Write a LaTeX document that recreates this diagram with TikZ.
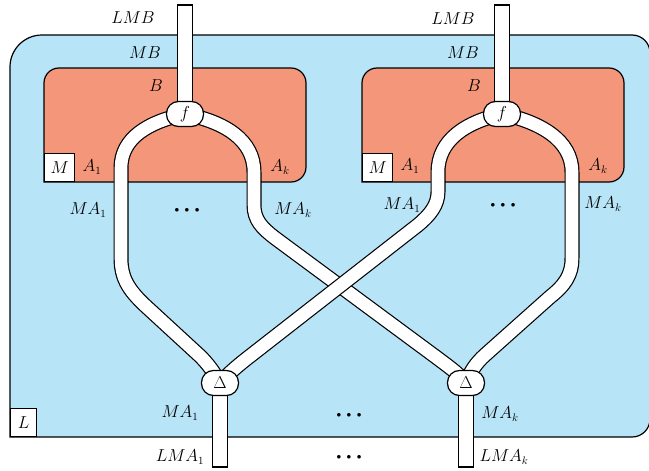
\documentclass[tikz,border=0pt]{standalone}
\usetikzlibrary{calc}
\definecolor{bluebg}{RGB}{184,228,248}
\definecolor{orangebg}{RGB}{244,150,122}
\newcommand{\mydots}{$\bullet$\kern5.5pt$\bullet$\kern5.5pt$\bullet$}
\begin{document}
\begin{tikzpicture}[x=1pt,y=-1pt,line width=1.2pt,
  font=\fontsize{16}{19}\selectfont,
  strand/.style={draw=black,line width=1.2pt,double=white,double distance=12.6pt},
  endbox/.style={draw=black,fill=white,line width=1.2pt},
  joint/.style={draw=black,fill=white,line width=1.2pt,rectangle,rounded corners=12pt,
    minimum width=37pt,minimum height=25pt,inner sep=0pt},
  sqbox/.style={draw=black,fill=white,line width=1.2pt,inner sep=0pt},
  lbl/.style={inner sep=0pt},
  dotsl/.style={inner sep=0pt,font=\fontsize{9}{9}\selectfont}]
\useasboundingbox (0,0) rectangle (649,471);
% outer blue region
\draw[fill=bluebg] (10,437) -- (10,67) .. controls (10,49.3) and (24.3,35) .. (42,35)
  -- (632,35) .. controls (642,35) and (650,43) .. (650,53)
  -- (650,419) .. controls (650,429) and (642,437) .. (632,437) -- cycle;
% inner orange regions
\foreach \dx in {0,318}{
\begin{scope}[xshift=\dx pt]
\draw[fill=orangebg] (44,182) -- (44,83) .. controls (44,74.7) and (50.7,68) .. (59,68)
  -- (291,68) .. controls (299.3,68) and (306,74.7) .. (306,83)
  -- (306,167) .. controls (306,175.3) and (299.3,182) .. (291,182) -- cycle;
\end{scope}}
\node[sqbox,minimum width=30pt,minimum height=28pt,anchor=south west] (M1) at (44,182) {$M$};
\node[sqbox,minimum width=30pt,minimum height=28pt,anchor=south west] (M2) at (362,182) {$M$};
\node[sqbox,minimum width=26pt,minimum height=28pt,anchor=south west] (Lb) at (10,437) {$L$};
% joints (positions)
\coordinate (fL) at (185,114);
\coordinate (fR) at (502,114);
\coordinate (dL) at (220,383);
\coordinate (dR) at (466,383);
\coordinate (tL) at (185,5);
\coordinate (tR) at (502,5);
\coordinate (bL) at (220,467);
\coordinate (bR) at (466,467);
% strands
\draw[strand] (fL) .. controls (148,122) and (121,138) .. (121,168) -- (121,258)
  .. controls (121,280) and (130,292) .. (150,310) -- (200,356)
  .. controls (208,364) and (214,372) .. (dL);
\draw[strand] (fL) .. controls (225,122) and (254,140) .. (254,172) -- (254,205)
  .. controls (254,220) and (262,228) .. (275,238) -- (440,360)
  .. controls (452,369) and (460,375) .. (dR);
\draw[strand] (fR) .. controls (466,122) and (438,140) .. (438,172) -- (438,192)
  .. controls (438,205) and (430,215) .. (418,225) -- (245,360)
  .. controls (235,368) and (226,376) .. (dL);
\draw[strand] (fR) .. controls (540,122) and (572,140) .. (572,172) -- (572,258)
  .. controls (572,275) and (565,285) .. (550,297) -- (485,355)
  .. controls (476,363) and (470,372) .. (dR);
% terminal strands
\draw[endbox] ($(tL)+(-7.5,0)$) rectangle ($(fL)+(7.5,-2)$);
\draw[endbox] ($(tR)+(-7.5,0)$) rectangle ($(fR)+(7.5,-2)$);
\draw[endbox] ($(dL)+(-7.5,2)$) rectangle ($(bL)+(7.5,0)$);
\draw[endbox] ($(dR)+(-7.5,2)$) rectangle ($(bR)+(7.5,0)$);
% joint nodes
\node[joint] (f1) at (fL) {$f$};
\node[joint] (f2) at (fR) {$f$};
\node[joint] (D1) at (dL) {$\Delta$};
\node[joint] (D2) at (dR) {$\Delta$};
% labels left group
\node[lbl] (l1) at (133,18) {$LMB$};
\node[lbl] (l2) at (145,53) {$MB$};
\node[lbl] (l3) at (156,86) {$B$};
\node[lbl] (l4) at (92,167) {$A_1$};
\node[lbl] (l5) at (280,167) {$A_k$};
\node[lbl] (l6) at (88,210) {$MA_1$};
\node[lbl] (l7) at (293,210) {$MA_k$};
\node[dotsl] (l8) at (187,210) {\mydots};
% labels right group
\node[lbl] (r1) at (453,19) {$LMB$};
\node[lbl] (r2) at (463,53) {$MB$};
\node[lbl] (r3) at (474,86) {$B$};
\node[lbl] (r4) at (410,166) {$A_1$};
\node[lbl] (r5) at (598,166) {$A_k$};
\node[lbl] (r6) at (402,205) {$MA_1$};
\node[lbl] (r7) at (603,204) {$MA_k$};
\node[dotsl] (r8) at (503,205) {\mydots};
% bottom labels
\node[lbl] (b1) at (180,413) {$MA_1$};
\node[lbl] (b2) at (180,457) {$LMA_1$};
\node[lbl] (b3) at (500,414) {$MA_k$};
\node[lbl] (b4) at (504,457) {$LMA_k$};
\node[dotsl] (b5) at (349,415) {\mydots};
\node[dotsl] (b6) at (349,457) {\mydots};
\end{tikzpicture}
\end{document}
